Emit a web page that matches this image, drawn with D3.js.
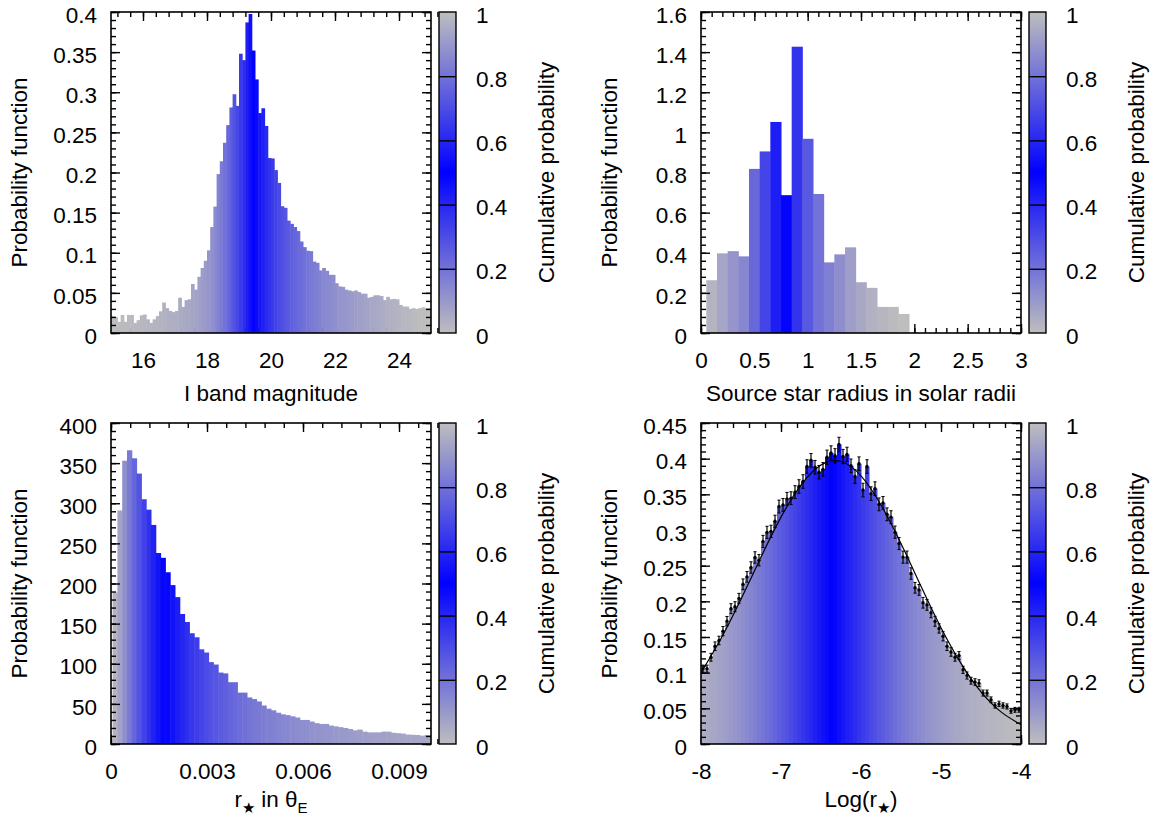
<!DOCTYPE html>
<meta charset="utf-8">
<style>
  body { margin: 0; background: #fff; }
  svg text { font-family: "Liberation Sans", Arial, Helvetica, sans-serif; font-size: 22.5px; fill: #000; }
  .tick line { stroke-width: 1.4; }
</style>
<body>
<svg width="1156" height="818"></svg>

<script src="https://cdn.jsdelivr.net/npm/d3@7"></script>
<script>

// top left: I band magnitude, bins of 0.1 mag starting at 15
var magStart = 15, magWidth = 0.1;
var magValues = [
  0.021, 0.020, 0.014, 0.0225, 0.014, 0.0225, 0.0225, 0.0125, 0.016, 0.022,
  0.023, 0.017, 0.0125, 0.017, 0.021, 0.027, 0.038, 0.031, 0.0275, 0.026,
  0.0275, 0.044, 0.0325, 0.041, 0.042, 0.061, 0.054, 0.070, 0.081, 0.090,
  0.103, 0.132, 0.1575, 0.198, 0.214, 0.237, 0.259, 0.281, 0.2975, 0.283,
  0.348, 0.34, 0.387, 0.3975, 0.352, 0.316, 0.274, 0.28, 0.258, 0.218,
  0.2175, 0.203, 0.187, 0.158, 0.156, 0.14, 0.136, 0.132, 0.127, 0.114,
  0.107, 0.1025, 0.102, 0.089, 0.0875, 0.078, 0.081, 0.0775, 0.0725, 0.0725,
  0.062, 0.058, 0.0575, 0.054, 0.053, 0.052, 0.053, 0.051, 0.049, 0.049,
  0.044, 0.045, 0.047, 0.047, 0.046, 0.041, 0.045, 0.042, 0.0425, 0.042,
  0.035, 0.033, 0.033, 0.030, 0.031, 0.030, 0.031, 0.032, 0.031, 0.031
];
var magXTicks = [16, 18, 20, 22, 24];
var magYTicks = [0, 0.05, 0.1, 0.15, 0.2, 0.25, 0.3, 0.35, 0.4];

// top right: source radius in solar radii, bins of 0.1 starting at 0.05
var radStart = 0.05, radWidth = 0.1;
var radValues = [0.263, 0.397, 0.408, 0.382, 0.818, 0.905, 1.052, 0.687, 1.427, 0.968,
                 0.693, 0.352, 0.392, 0.427, 0.253, 0.225, 0.13, 0.13, 0.095];
var radXTicks = [0, 0.5, 1, 1.5, 2, 2.5, 3];
var radYTicks = [0, 0.2, 0.4, 0.6, 0.8, 1, 1.2, 1.4, 1.6];

// bottom left: r* in theta_E, bins of 0.00015 starting at 0.00005
var thStart = 0.00005, thWidth = 0.00015;
var thValues = [
  189, 291, 353, 366, 356, 337, 305, 292, 273, 238,
  232, 214, 198, 183, 162, 152, 138, 133, 118, 114,
  102, 99, 89, 88, 77, 77, 64, 64, 58, 56,
  53, 48, 44, 42, 39, 37, 36, 34.5, 33, 30,
  30, 28, 26, 25, 25, 23, 22, 21, 20, 18.7,
  17, 18, 15.4, 14.5, 14.5, 14.5, 15.4, 15.4, 14, 13.5,
  13, 11.8, 11.5, 11.2, 10.4, 11.2, 11
];
var thXTicks = [0, 0.003, 0.006, 0.009];
var thYTicks = [0, 50, 100, 150, 200, 250, 300, 350, 400];

// bottom right: Log(r*), bins of 0.05 starting at -8, with error bars
var logStart = -8, logWidth = 0.05;
var logValues = [
  0.1056, 0.1056, 0.1216, 0.1371, 0.1451, 0.1582, 0.1723, 0.1897, 0.1925, 0.2042,
  0.2239, 0.2343, 0.2474, 0.2615, 0.2577, 0.284, 0.2967, 0.2981, 0.3122, 0.3329,
  0.3352, 0.3437, 0.3446, 0.3531, 0.361, 0.368, 0.389, 0.3977, 0.388, 0.381,
  0.385, 0.402, 0.408, 0.404, 0.420, 0.403, 0.406, 0.390, 0.375, 0.393,
  0.356, 0.389, 0.351, 0.358, 0.336, 0.338, 0.322, 0.318, 0.297, 0.281,
  0.262, 0.262, 0.239, 0.219, 0.216, 0.198, 0.195, 0.184, 0.172, 0.162,
  0.151, 0.137, 0.129, 0.1216, 0.124, 0.104, 0.096, 0.0887, 0.0869, 0.0854,
  0.0714, 0.0714, 0.062, 0.054, 0.0563, 0.054, 0.0526, 0.0465, 0.0479, 0.048
];
var logErrors = [
  0.005, 0.005, 0.0055, 0.006, 0.006, 0.0065, 0.0065, 0.007, 0.007, 0.007,
  0.0075, 0.0075, 0.008, 0.008, 0.008, 0.0085, 0.0085, 0.0085, 0.0085, 0.009,
  0.009, 0.009, 0.009, 0.009, 0.0095, 0.0095, 0.0095, 0.0095, 0.0095, 0.0095,
  0.0095, 0.01, 0.01, 0.01, 0.01, 0.01, 0.01, 0.0095, 0.0095, 0.0095,
  0.0095, 0.0095, 0.0095, 0.0095, 0.009, 0.009, 0.009, 0.009, 0.0085, 0.0085,
  0.0085, 0.0085, 0.008, 0.0075, 0.0075, 0.0075, 0.0075, 0.007, 0.007, 0.0065,
  0.0065, 0.006, 0.006, 0.0055, 0.0055, 0.005, 0.005, 0.0048, 0.0046, 0.0046,
  0.0042, 0.0042, 0.004, 0.0037, 0.0037, 0.0037, 0.0036, 0.0034, 0.0034, 0.0034
];
// fitted curve
var fitX = [-8, -7.75, -7.5, -7.25, -7, -6.75, -6.5, -6.25, -6, -5.75, -5.5, -5.25, -5, -4.75, -4.5, -4.25, -4];
var fitY = [0.100, 0.148, 0.203, 0.262, 0.318, 0.363, 0.391, 0.396, 0.376, 0.335, 0.281, 0.221, 0.163, 0.113, 0.073, 0.045, 0.027];
var logXTicks = [-8, -7, -6, -5, -4];
var logYTicks = [0, 0.05, 0.1, 0.15, 0.2, 0.25, 0.3, 0.35, 0.4, 0.45];

var cbTicks = [0, 0.2, 0.4, 0.6, 0.8, 1];

var svg = d3.select("svg");
var fmt = function(d) { return String(+d.toFixed(6)); };

// grey -> blue -> grey, on the cumulative probability
var mix = d3.interpolateRgb("#bebebe", "#0000ff");
function palette(t) {
  t = Math.max(0, Math.min(1, t));
  return mix(1 - Math.abs(2 * t - 1));
}

var grad = svg.append("defs").append("linearGradient")
    .attr("id", "cbgrad").attr("x1", 0).attr("y1", 1).attr("x2", 0).attr("y2", 0);
[0, 0.25, 0.5, 0.75, 1].forEach(function(t) {
  grad.append("stop").attr("offset", t).attr("stop-color", palette(t));
});

var panels = [
  {id: 0, left: 111, top: 12, xDomain: [15, 25], yDomain: [0, 0.4],
   xTicks: magXTicks, xMinor: 0.4, xMinorFrom: 15.2, yTicks: magYTicks, yMinor: 0.01,
   values: magValues, start: magStart, width: magWidth, cdfStart: 0, titleGap: 68,
   xTitle: [["I band magnitude"]]},
  {id: 1, left: 701, top: 12, xDomain: [0, 3], yDomain: [0, 1.6],
   xTicks: radXTicks, xMinor: 0.1, xMinorFrom: 0, yTicks: radYTicks, yMinor: 0.04,
   values: radValues, start: radStart, width: radWidth, cdfStart: 0, titleGap: 68,
   xTitle: [["Source star radius in solar radii"]]},
  {id: 2, left: 111, top: 423, xDomain: [0, 0.01], yDomain: [0, 400],
   xTicks: thXTicks, xMinor: 0.0006, xMinorFrom: 0, yTicks: thYTicks, yMinor: 10,
   values: thValues, start: thStart, width: thWidth, cdfStart: 0, titleGap: 63,
   xTitle: [["r"], ["\u2605", "sub"], [" in \u03b8"], ["E", "sub"]]},
  {id: 3, left: 701, top: 423, xDomain: [-8, -4], yDomain: [0, 0.45],
   xTicks: logXTicks, xMinor: 0.2, xMinorFrom: -8, yTicks: logYTicks, yMinor: 0.01,
   values: logValues, start: logStart, width: logWidth, cdfStart: 0.04, titleGap: 63,
   xTitle: [["Log(r"], ["\u2605", "sub"], [")"]]}
];

var PW = 320, PH = 321;

function steps(a, b, s) {
  var n = Math.round((b - a) / s), out = [];
  for (var i = 0; i <= n; i++) out.push(+(a + i * s).toFixed(8));
  return out;
}

function axisStyle(sel) {
  sel.select(".domain").remove();
  sel.attr("font-size", null).attr("font-family", null);
}

panels.forEach(function(p) {
  var bottom = p.top + PH, right = p.left + PW;
  var x = d3.scaleLinear().domain(p.xDomain).range([p.left, right]);
  var y = d3.scaleLinear().domain(p.yDomain).range([bottom, p.top]);
  var g = svg.append("g");

  svg.select("defs").append("clipPath").attr("id", "clip" + p.id)
    .append("rect").attr("x", p.left).attr("y", p.top).attr("width", PW).attr("height", PH);

  var xMinor = steps(p.xMinorFrom, p.xDomain[1], p.xMinor);
  var yMinor = steps(p.yDomain[0], p.yDomain[1], p.yMinor);

  // bottom ticks sit under the bars
  g.append("g").attr("transform", "translate(0," + bottom + ")")
    .call(d3.axisBottom(x).tickValues(xMinor).tickSize(-5).tickFormat(""))
    .call(axisStyle);
  g.append("g").attr("transform", "translate(0," + bottom + ")")
    .call(d3.axisBottom(x).tickValues(p.xTicks).tickSize(-9).tickPadding(19).tickFormat(fmt))
    .call(axisStyle);

  // bars coloured by cumulative probability at the bin's right edge
  var acc = p.cdfStart;
  var cdf = p.values.map(function(v) { acc += v * p.width; return acc; });
  g.append("g").attr("clip-path", "url(#clip" + p.id + ")")
    .selectAll("rect").data(p.values).join("rect")
      .attr("x", function(d, i) { return x(p.start + i * p.width); })
      .attr("width", function(d, i) { return x(p.start + (i + 1) * p.width) - x(p.start + i * p.width) + 0.5; })
      .attr("y", function(d) { return y(d); })
      .attr("height", function(d) { return y(0) - y(d); })
      .attr("fill", function(d, i) { return palette(cdf[i]); });

  if (p.id === 3) {
    var eb = g.append("g");
    logValues.forEach(function(v, i) {
      var cx = x(logStart + (i + 0.5) * logWidth);
      var y1 = y(v - logErrors[i]), y2 = y(v + logErrors[i]);
      eb.append("line").attr("x1", cx).attr("x2", cx).attr("y1", y1).attr("y2", y2)
        .attr("stroke", "#000").attr("stroke-width", 1.2);
      eb.append("line").attr("x1", cx - 1.6).attr("x2", cx + 1.6).attr("y1", y1).attr("y2", y1)
        .attr("stroke", "#000").attr("stroke-width", 1);
      eb.append("line").attr("x1", cx - 1.6).attr("x2", cx + 1.6).attr("y1", y2).attr("y2", y2)
        .attr("stroke", "#000").attr("stroke-width", 1);
      eb.append("circle").attr("cx", cx).attr("cy", y(v)).attr("r", 1.7).attr("fill", "#000");
    });
    g.append("path")
      .datum(d3.zip(fitX, fitY))
      .attr("fill", "none").attr("stroke", "#000").attr("stroke-width", 1.2)
      .attr("d", d3.line().x(function(d) { return x(d[0]); }).y(function(d) { return y(d[1]); })
        .curve(d3.curveNatural));
  }

  // top, left, right ticks drawn over the bars
  g.append("g").attr("transform", "translate(0," + p.top + ")")
    .call(d3.axisTop(x).tickValues(xMinor).tickSize(-5).tickFormat("")).call(axisStyle);
  g.append("g").attr("transform", "translate(0," + p.top + ")")
    .call(d3.axisTop(x).tickValues(p.xTicks).tickSize(-9).tickFormat("")).call(axisStyle);
  g.append("g").attr("transform", "translate(" + p.left + ",0)")
    .call(d3.axisLeft(y).tickValues(yMinor).tickSize(-5).tickFormat("")).call(axisStyle);
  g.append("g").attr("transform", "translate(" + p.left + ",0)")
    .call(d3.axisLeft(y).tickValues(p.yTicks).tickSize(-9).tickPadding(14).tickFormat(fmt))
    .call(axisStyle)
    .selectAll("text").attr("dy", "0.45em");
  g.append("g").attr("transform", "translate(" + right + ",0)")
    .call(d3.axisRight(y).tickValues(yMinor).tickSize(-5).tickFormat("")).call(axisStyle);
  g.append("g").attr("transform", "translate(" + right + ",0)")
    .call(d3.axisRight(y).tickValues(p.yTicks).tickSize(-9).tickFormat("")).call(axisStyle);

  g.append("rect").attr("x", p.left).attr("y", p.top).attr("width", PW).attr("height", PH)
    .attr("fill", "none").attr("stroke", "#000").attr("stroke-width", 1.6);

  // colour box
  var cbx = right + 8, cbw = 17;
  var c = d3.scaleLinear().domain([0, 1]).range([bottom, p.top]);
  g.append("rect").attr("x", cbx).attr("y", p.top).attr("width", cbw).attr("height", PH)
    .attr("fill", "url(#cbgrad)");
  g.append("g").attr("transform", "translate(" + cbx + ",0)")
    .call(d3.axisRight(c).tickValues(cbTicks.slice(1, -1)).tickSize(cbw).tickFormat(""))
    .call(axisStyle);
  g.append("rect").attr("x", cbx).attr("y", p.top).attr("width", cbw).attr("height", PH)
    .attr("fill", "none").attr("stroke", "#000").attr("stroke-width", 1.4);
  g.append("g").attr("transform", "translate(" + (cbx + cbw) + ",0)")
    .call(d3.axisRight(c).tickValues(cbTicks).tickSize(0).tickPadding(20).tickFormat(fmt))
    .call(axisStyle)
    .selectAll("text").attr("dy", "0.45em");

  // titles
  var midY = (p.top + bottom) / 2;
  g.append("text").attr("transform", "translate(" + (p.left - 92) + "," + midY + ") rotate(-90)")
    .attr("text-anchor", "middle").attr("dy", "0.35em").text("Probability function");
  g.append("text").attr("transform", "translate(" + (cbx + 107) + "," + midY + ") rotate(-90)")
    .attr("text-anchor", "middle").attr("dy", "0.35em").text("Cumulative probability");

  var t = g.append("text").attr("x", (p.left + right) / 2).attr("y", bottom + p.titleGap)
    .attr("text-anchor", "middle");
  p.xTitle.forEach(function(part, i) {
    var ts = t.append("tspan").text(part[0]);
    if (part[1] === "sub") ts.style("font-size", "15px").attr("dy", 6);
    else if (i > 0 && p.xTitle[i - 1][1] === "sub") ts.attr("dy", -6);
  });
});

</script>
